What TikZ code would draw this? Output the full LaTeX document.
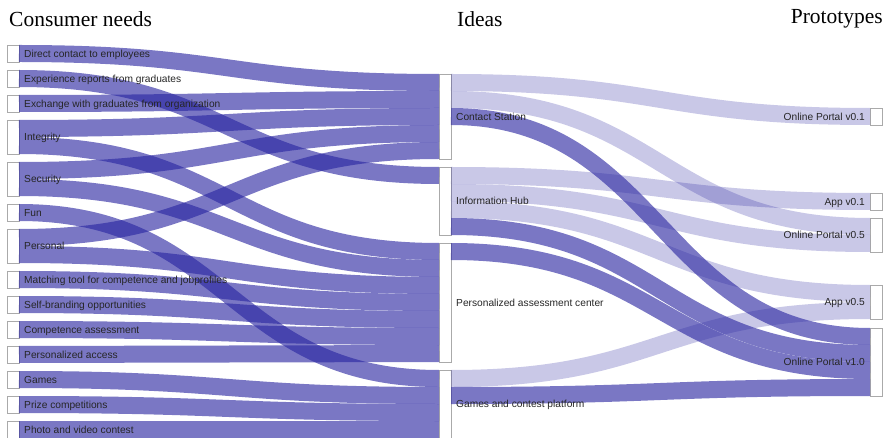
\documentclass[tikz,border=0pt]{standalone}
\usepackage{fontspec}
\setmainfont{Liberation Serif}
\newfontfamily\labelfont{Liberation Sans}
\usetikzlibrary{calc}

\definecolor{flowc}{RGB}{40,36,160}
\definecolor{boxline}{RGB}{170,170,170}
\definecolor{txt}{RGB}{38,38,38}

\tikzset{
  bar/.style={draw=boxline, line width=0.8pt, fill=white, inner sep=0pt,
    outer sep=0pt, minimum width=12pt, minimum height=#1*17pt, anchor=north west},
  bar/.default=1,
  flowmid/.style={draw=flowc, draw opacity=0.62, line width=17pt},
  flowlight/.style={draw=flowc, draw opacity=0.25, line width=17pt},
  lab/.style={font=\labelfont\fontsize{10.2}{12}\selectfont, text=txt, inner sep=0pt},
  labr/.style={lab, anchor=base west, xshift=5pt, yshift=-3.7pt},
  labl/.style={lab, anchor=base east, xshift=-5pt, yshift=-3.7pt},
  head/.style={font=\fontsize{21.5}{26}\selectfont, text=black, inner sep=0pt, anchor=base west},
}

% one band of the flow: style, source node, offset in source, target node, offset in target
\newcommand\sflow[5]{%
  \path (#2.north east) ++(0,#3+8.5) coordinate (fs)
        (#4.north west) ++(0,#5+8.5) coordinate (ft);
  \path ($(fs)!0.5!(ft)$) coordinate (fm);
  \draw[#1] (fs) .. controls (fm |- fs) and (fm |- ft) .. (ft);
}

\begin{document}
\begin{tikzpicture}[x=1pt, y=-1pt]
\useasboundingbox (0,0) rectangle (886,438);

% column headers
\node[head] (hc) at (9,27) {Consumer needs};
\node[head] (hi) at (457,27) {Ideas};
\node[head, anchor=base east] (hp) at (883,24) {Prototypes};

% consumer needs
\node[bar] (dir) at (7,45) {};
\node[bar] (exp) at (7,70) {};
\node[bar] (exc) at (7,95) {};
\node[bar=2] (int) at (7,120) {};
\node[bar=2] (sec) at (7,162) {};
\node[bar] (fun) at (7,204) {};
\node[bar=2] (per) at (7,229) {};
\node[bar] (mat) at (7,271) {};
\node[bar] (sel) at (7,296) {};
\node[bar] (com) at (7,321) {};
\node[bar] (acc) at (7,346) {};
\node[bar] (gam) at (7,371) {};
\node[bar] (pri) at (7,396) {};
\node[bar] (pho) at (7,421) {};

% ideas
\node[bar=5] (cs) at (439,74) {};
\node[bar=4] (ih) at (439,167) {};
\node[bar=7] (pac) at (439,243) {};
\node[bar=4] (gcp) at (439,370) {};

% prototypes
\node[bar] (op1) at (870,108) {};
\node[bar] (ap1) at (870,193) {};
\node[bar=2] (op5) at (870,218) {};
\node[bar=2] (ap5) at (870,285) {};
\node[bar=4] (op10) at (870,328) {};

% needs -> ideas
\sflow{flowmid}{dir}{0}{cs}{0}
\sflow{flowmid}{exp}{0}{ih}{0}
\sflow{flowmid}{exc}{0}{cs}{17}
\sflow{flowmid}{int}{0}{cs}{34}
\sflow{flowmid}{int}{17}{pac}{0}
\sflow{flowmid}{sec}{0}{cs}{51}
\sflow{flowmid}{sec}{17}{pac}{17}
\sflow{flowmid}{fun}{0}{gcp}{0}
\sflow{flowmid}{per}{0}{cs}{68}
\sflow{flowmid}{per}{17}{pac}{34}
\sflow{flowmid}{mat}{0}{pac}{51}
\sflow{flowmid}{sel}{0}{pac}{68}
\sflow{flowmid}{com}{0}{pac}{85}
\sflow{flowmid}{acc}{0}{pac}{102}
\sflow{flowmid}{gam}{0}{gcp}{17}
\sflow{flowmid}{pri}{0}{gcp}{34}
\sflow{flowmid}{pho}{0}{gcp}{51}

% ideas -> prototypes
\sflow{flowlight}{cs}{0}{op1}{0}
\sflow{flowlight}{cs}{17}{op5}{0}
\sflow{flowmid}{cs}{34}{op10}{0}
\sflow{flowlight}{ih}{0}{ap1}{0}
\sflow{flowlight}{ih}{17}{op5}{17}
\sflow{flowlight}{ih}{34}{ap5}{0}
\sflow{flowmid}{ih}{51}{op10}{17}
\sflow{flowmid}{pac}{0}{op10}{34}
\sflow{flowlight}{gcp}{0}{ap5}{17}
\sflow{flowmid}{gcp}{17}{op10}{51}

% labels
\node[labr] (ldir) at (dir.east) {Direct contact to employees};
\node[labr] (lexp) at (exp.east) {Experience reports from graduates};
\node[labr] (lexc) at (exc.east) {Exchange with graduates from organization};
\node[labr] (lint) at (int.east) {Integrity};
\node[labr] (lsec) at (sec.east) {Security};
\node[labr] (lfun) at (fun.east) {Fun};
\node[labr] (lper) at (per.east) {Personal};
\node[labr] (lmat) at (mat.east) {Matching tool for competence and jobprofiles};
\node[labr] (lsel) at (sel.east) {Self-branding opportunities};
\node[labr] (lcom) at (com.east) {Competence assessment};
\node[labr] (lacc) at (acc.east) {Personalized access};
\node[labr] (lgam) at (gam.east) {Games};
\node[labr] (lpri) at (pri.east) {Prize competitions};
\node[labr] (lpho) at (pho.east) {Photo and video contest};

\node[labr] (lcs) at (cs.east) {Contact Station};
\node[labr] (lih) at (ih.east) {Information Hub};
\node[labr] (lpac) at (pac.east) {Personalized assessment center};
\node[labr] (lgcp) at (gcp.east) {Games and contest platform};

\node[labl] (lop1) at (op1.west) {Online Portal v0.1};
\node[labl] (lap1) at (ap1.west) {App v0.1};
\node[labl] (lop5) at (op5.west) {Online Portal v0.5};
\node[labl] (lap5) at (ap5.west) {App v0.5};
\node[labl] (lop10) at (op10.west) {Online Portal v1.0};
\end{tikzpicture}
\end{document}
